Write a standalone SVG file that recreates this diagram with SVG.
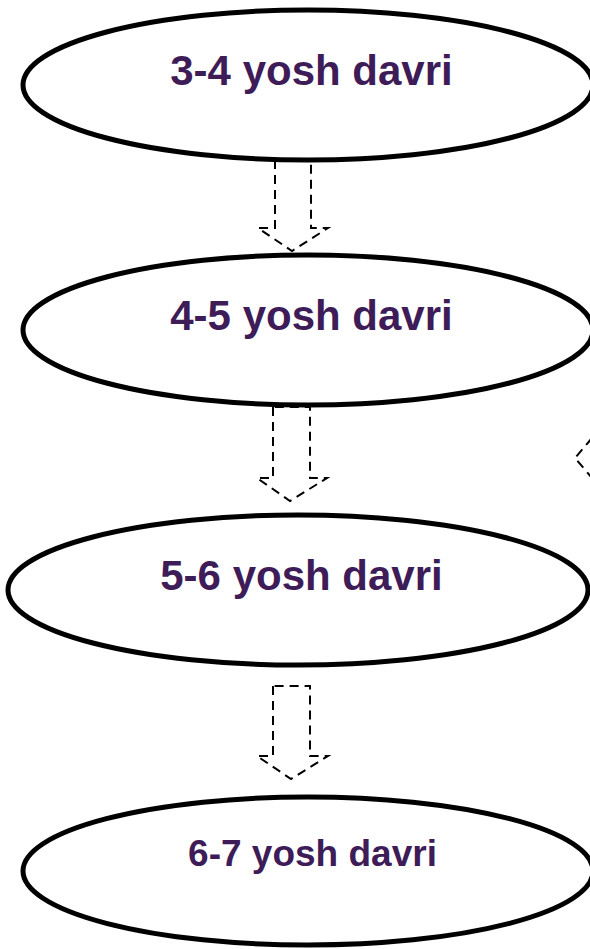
<svg xmlns="http://www.w3.org/2000/svg" width="590" height="949" viewBox="0 0 590 949">
<style>
.node{fill:#fff;stroke:#000;stroke-width:5}
.lbl{font-family:"Liberation Sans",Arial,sans-serif;font-weight:bold;fill:#3D1C58;text-anchor:middle}
.arr{fill:none;stroke:#000;stroke-width:2;stroke-dasharray:9,6}
</style>
<rect width="590" height="949" fill="#fff"/>
<g id="connectors">
<path class="arr" d="M275,160 L275,228 L258,228 L292,251 L328,228 L311,228 L311,160 Z"/>
<path class="arr" d="M273,407 L273,478 L257,478 L290,501 L327,478 L310,478 L310,407 Z"/>
<path class="arr" d="M273,686 L273,756 L257,756 L291,779 L328,756 L310,756 L310,686 Z"/>
<path class="arr" d="M592,438 L575,458 L592,478"/>
</g>
<g id="node1">
<ellipse class="node" cx="308" cy="85" rx="285" ry="75"/>
<text class="lbl" x="311.5" y="85" font-size="42">3-4 yosh davri</text>
</g>
<g id="node2">
<ellipse class="node" cx="308" cy="330" rx="285" ry="75"/>
<text class="lbl" x="311.5" y="330" font-size="42">4-5 yosh davri</text>
</g>
<g id="node3">
<ellipse class="node" cx="298" cy="590" rx="290" ry="75"/>
<text class="lbl" x="301.5" y="590" font-size="42">5-6 yosh davri</text>
</g>
<g id="node4">
<ellipse class="node" cx="308" cy="871" rx="285" ry="74"/>
<text class="lbl" x="312.5" y="866" font-size="37">6-7 yosh davri</text>
</g>
</svg>
